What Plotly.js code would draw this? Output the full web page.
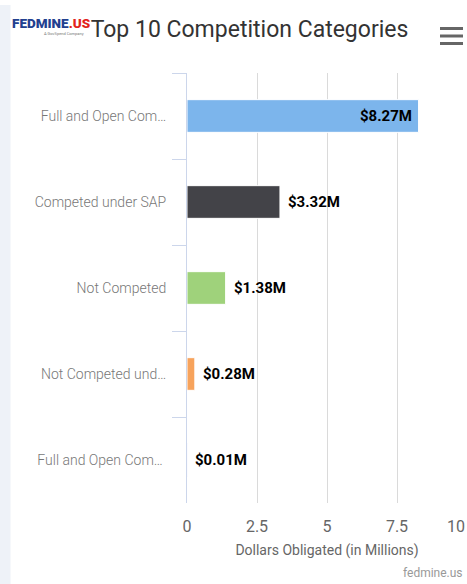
<!DOCTYPE html>
<html>
<head>
<meta charset="utf-8">
<script src="https://cdn.plot.ly/plotly-3.0.1.min.js"></script>
<style>
  html, body { margin: 0; padding: 0; background: #ffffff; }
  #chart { width: 467px; height: 584px; }
</style>
</head>
<body>
<div id="chart"></div>
<script>
// ---- data ----
const categories = [
  "Full and Open Com…",
  "Competed under SAP",
  "Not Competed",
  "Not Competed und…",
  "Full and Open Com… "
];
const values = [8.27, 3.32, 1.38, 0.28, 0.01];
const barColors = ["#7cb5ec", "#434348", "#9fd27b", "#f7a35c", "#8085e9"];
const xTickVals = [0, 2.5, 5, 7.5, 10];
const xTickText = ["0", "2.5", "5", "7.5", "10"];
const titleText = "Top 10 Competition Categories";
const xTitleText = "Dollars Obligated (in Millions)";
const creditText = "fedmine.us";

// ---- layout geometry (pixels) ----
const W = 467, H = 584;
const M = { l: 187, r: 0, t: 73, b: 81 };
const PW = W - M.l - M.r, PH = H - M.t - M.b;
const px2x = p => (p - M.l) / PW;
const px2y = p => (H - M.b - p) / PH;

const trace = {
  type: "bar",
  orientation: "h",
  x: values,
  y: categories,
  marker: { color: barColors, line: { color: "#ffffff", width: 1 } },
  hoverinfo: "none"
};

const labelFont = { family: "Roboto, sans-serif", size: 15, color: "#000000", weight: "bold" };
const dataLabels = values.map((v, i) => {
  const inside = v > 5;
  return {
    x: v, y: categories[i], xref: "x", yref: "y",
    text: "$" + v.toFixed(2) + "M",
    showarrow: false,
    xanchor: inside ? "right" : "left",
    yanchor: "middle",
    xshift: inside ? -5 : 6,
    font: labelFont
  };
});

// Last tick label is pushed inside the chart edge (as in the reference)
const lastIdx = xTickVals.length - 1;
const shownTickText = xTickText.map((t, i) => (i === lastIdx ? "" : t));
const tickFont = { family: "Roboto, sans-serif", size: 16, color: "#666666" };
const edgeTick = {
  x: xTickVals[lastIdx], xref: "x", y: px2y(526), yref: "paper",
  text: xTickText[lastIdx], showarrow: false,
  xanchor: "right", yanchor: "middle", font: tickFont
};

const hamburger = [28.5, 36, 43.5].map(py => ({
  type: "line", xref: "paper", yref: "paper",
  x0: px2x(440), x1: px2x(463), y0: px2y(py), y1: px2y(py),
  line: { color: "#666666", width: 3 }
}));

const layout = {
  width: W, height: H,
  margin: { l: M.l, r: M.r, t: M.t, b: M.b, pad: 0 },
  paper_bgcolor: "#ffffff",
  plot_bgcolor: "#ffffff",
  font: { family: "Roboto, sans-serif", color: "#666666" },
  showlegend: false,
  bargap: 0.62,
  title: {
    text: titleText,
    font: { family: "Roboto, sans-serif", size: 23, color: "#333333" },
    xref: "container", yref: "container",
    x: 249.5 / W, xanchor: "center",
    y: 1 - 29 / H, yanchor: "middle"
  },
  xaxis: {
    range: [0, 10],
    tickvals: xTickVals,
    ticktext: shownTickText,
    showgrid: true,
    gridcolor: "#dadada",
    gridwidth: 1,
    zeroline: false,
    showline: false,
    ticks: "",
    ticklabelstandoff: 12,
    tickfont: tickFont,
    title: {
      text: xTitleText,
      font: { family: "Roboto, sans-serif", size: 14, color: "#666666" },
      standoff: 10
    },
    fixedrange: true
  },
  yaxis: {
    type: "category",
    categoryorder: "array",
    categoryarray: categories,
    autorange: "reversed",
    showgrid: false,
    zeroline: false,
    showline: true,
    linecolor: "#ccd6eb",
    linewidth: 1,
    ticks: "outside",
    tickson: "boundaries",
    ticklen: 14,
    tickcolor: "#ccd6eb",
    tickwidth: 1,
    ticklabelstandoff: 17,
    tickfont: { family: "Roboto, sans-serif", size: 14, color: "#777777", weight: 300 },
    fixedrange: true
  },
  shapes: [
    {
      type: "rect", xref: "paper", yref: "paper", layer: "below",
      x0: px2x(0), x1: px2x(10.5), y0: px2y(H), y1: px2y(5),
      fillcolor: "#eef2f8", line: { width: 0 }
    }
  ].concat(hamburger),
  annotations: dataLabels.concat([
    edgeTick,
    {
      xref: "paper", yref: "paper",
      x: px2x(10), y: px2y(23), xanchor: "left", yanchor: "middle",
      text: "<span style='color:#22408f'>FEDMINE</span><span style='color:#e2231a'>.US</span>",
      showarrow: false,
      font: { family: "Roboto, sans-serif", size: 13.5, weight: 900 }
    },
    {
      xref: "paper", yref: "paper",
      x: px2x(86), y: px2y(33), xanchor: "right", yanchor: "middle",
      text: "A GovSpend Company",
      showarrow: false,
      font: { family: "Roboto, sans-serif", size: 4, color: "#777777" }
    },
    {
      xref: "paper", yref: "paper",
      x: px2x(465), y: px2y(573), xanchor: "right", yanchor: "middle",
      text: creditText,
      showarrow: false,
      font: { family: "Roboto, sans-serif", size: 12, color: "#999999" }
    }
  ])
};

Plotly.newPlot("chart", [trace], layout, { displayModeBar: false, staticPlot: true });
</script>
</body>
</html>
